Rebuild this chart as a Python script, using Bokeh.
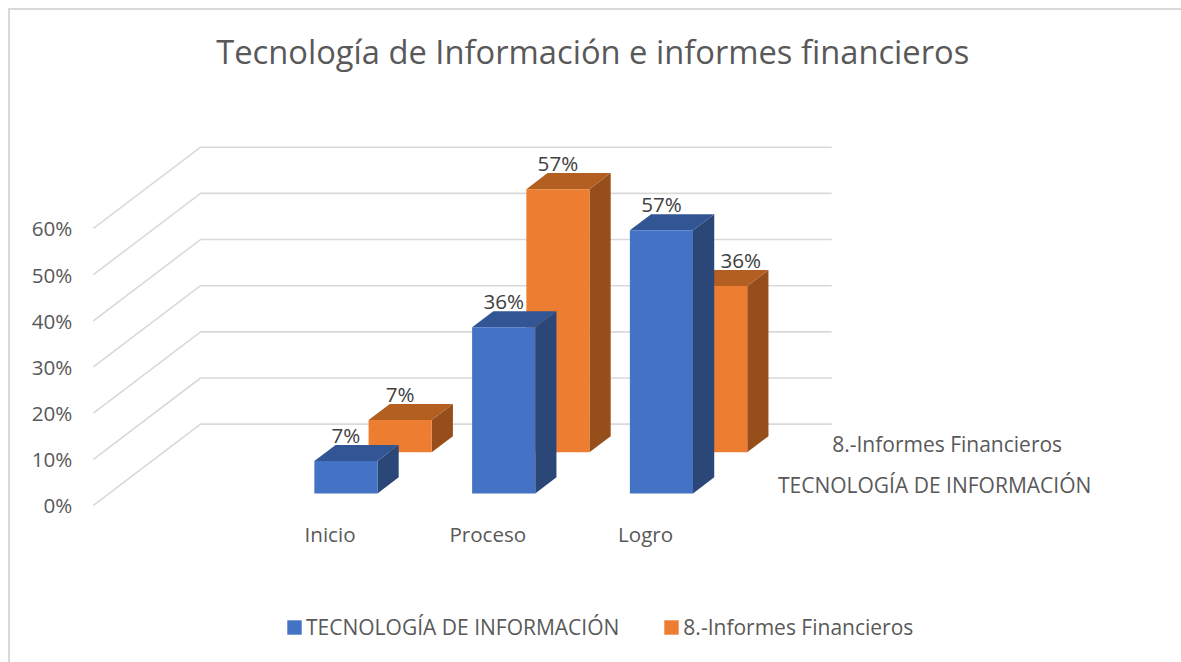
from bokeh.plotting import figure
from bokeh.models import (FixedTicker, Range1d, Legend, LegendItem, LinearAxis,
                          Title, PrintfTickFormatter, ColumnDataSource)
from bokeh.core.properties import value
from bokeh.embed import file_html
from bokeh.resources import INLINE

categories = ["Inicio", "Proceso", "Logro"]
tecnologia = [7, 36, 57]
informes = [7, 57, 36]
series_names = ["TECNOLOGÍA DE INFORMACIÓN", "8.-Informes Financieros"]
y_ticks = [0, 10, 20, 30, 40, 50, 60]
title_text = "Tecnología de  Información e informes financieros"

FONT = "Open Sans"
FS = "20.6px"
FS_LONG = "21px"
GRID = "#D9D9D9"
TEXT = "#595959"
LABEL = "#404040"
W, H = 1171, 652
PX_PER_CAT = 157.5
PX_PER_PCT = 4.6
MIN_TOP = 78

# oblique projection of the chart's depth axis (t = 0 front, t = 1 back wall)
DX = 107 / PX_PER_CAT
DY = 81 / PX_PER_PCT
BAR_W = 0.4
ROWS = [(0.148, 0.346), (0.654, 0.852)]
WALL_LEFT = -1.5
WALL_RIGHT = WALL_LEFT + 4.0
# data labels that the original chart nudged sideways to stay readable (series, category)
LABEL_NUDGE = {(1, 2): 25}


def pt(x, v, t):
    return x + t * DX, v + t * DY


def box(i, v, row):
    """Return front, top and side faces of a bar in data space."""
    t0, t1 = row
    l, r = i - BAR_W / 2, i + BAR_W / 2
    a = pt(l, v, t0); b = pt(r, v, t0); c = pt(r, v, t1); d = pt(l, v, t1)
    e = pt(r, 0, t0); f = pt(r, 0, t1)
    top = ([a[0], b[0], c[0], d[0]], [a[1], b[1], c[1], d[1]])
    side = ([b[0], c[0], f[0], e[0]], [b[1], c[1], f[1], e[1]])
    front = (a[0], b[0], e[1], a[1])
    return front, top, side


x0_px, y0_px = 329, 503.5
p = figure(width=W, height=H, output_backend="svg", toolbar_location=None,
           margin=(8, 0, 0, 8),
           x_range=Range1d((10 - x0_px) / PX_PER_CAT, (10 + W - x0_px) / PX_PER_CAT),
           y_range=Range1d((y0_px - (10 + H)) / PX_PER_PCT, (y0_px - (10 + MIN_TOP)) / PX_PER_PCT),
           min_border_left=0, min_border_right=0, min_border_bottom=0, min_border_top=MIN_TOP,
           x_axis_location=None, y_axis_location=None)
p.styles = {"border-left": f"2px solid {GRID}", "border-top": f"2px solid {GRID}",
            "box-sizing": "content-box"}
p.outline_line_color = None
p.grid.visible = False

p.title = Title(text=title_text, align="center", text_font=FONT,
                text_font_size="32.7px", text_font_style="normal", text_color=TEXT, standoff=30)

# gridlines: side wall + back wall
for v in y_ticks:
    bx, by = pt(WALL_LEFT, v, 1)
    fx, fy = pt(WALL_LEFT, v, 0)
    p.line([fx, bx, bx + 4.0], [fy, by, by], line_color=GRID, line_width=1.6)

# axes
yax = LinearAxis(ticker=FixedTicker(ticks=y_ticks), formatter=PrintfTickFormatter(format="%d%%"),
                 major_tick_line_color=None, minor_tick_line_color=None, axis_line_color=None,
                 major_label_text_font=FONT, major_label_text_font_size=FS,
                 major_label_text_color=TEXT, major_label_standoff=12,
                 fixed_location=WALL_LEFT - 0.02)
p.add_layout(yax, "left")
xax = LinearAxis(ticker=FixedTicker(ticks=[0, 1, 2]),
                 major_label_overrides={i: c for i, c in enumerate(categories)},
                 major_tick_line_color=None, minor_tick_line_color=None, axis_line_color=None,
                 major_label_text_font=FONT, major_label_text_font_size=FS,
                 major_label_text_color=TEXT, major_label_standoff=9,
                 fixed_location=0)
p.add_layout(xax, "below")

styles = [
    dict(front="#4472C4", top="#325693", side="#2A4778"),
    dict(front="#ED7D31", top="#B45F22", side="#964F1B"),
]
series = [tecnologia, informes]
front_renderers = {}
labels = dict(x=[], y=[], text=[], dx=[])
for s in (1, 0):  # back row first
    st = styles[s]
    row = ROWS[s]
    q = dict(left=[], right=[], bottom=[], top=[])
    for i, v in enumerate(series[s]):
        fr, tp, sd = box(i, v, row)
        p.patch(sd[0], sd[1], fill_color=st["side"], line_color=None)
        p.patch(tp[0], tp[1], fill_color=st["top"], line_color=None)
        q["left"].append(fr[0]); q["right"].append(fr[1])
        q["bottom"].append(fr[2]); q["top"].append(fr[3])
        lx, _ = pt(i, v, row[0])
        _, ly = pt(i, v, row[1])
        labels["x"].append(lx); labels["y"].append(ly); labels["text"].append(f"{v}%")
        labels["dx"].append(LABEL_NUDGE.get((s, i), 0))
    r = p.quad(source=ColumnDataSource(q), left="left", right="right", bottom="bottom", top="top",
               fill_color=st["front"], line_color=None)
    front_renderers[s] = r

# data labels sit above every bar
p.text(source=ColumnDataSource(labels), x="x", y="y", text="text", text_align="center",
       text_baseline="bottom", text_font=value(FONT), text_font_size=FS,
       text_color=LABEL, x_offset="dx", y_offset=4)

# depth-axis series names
for s, name in enumerate(series_names):
    t = sum(ROWS[s]) / 2
    x, y = pt(WALL_RIGHT, 0, t)
    p.text([x], [y], text=[name], text_align="left", text_baseline="middle",
           text_font=value(FONT), text_font_size=FS_LONG, text_color=TEXT, x_offset=27)

legend = Legend(items=[LegendItem(label=series_names[0], renderers=[front_renderers[0]]),
                       LegendItem(label=series_names[1], renderers=[front_renderers[1]])],
                orientation="horizontal", location=(275, 23), background_fill_alpha=0,
                border_line_color=None, glyph_width=18, glyph_height=18, label_standoff=3,
                spacing=43, padding=0, margin=0, label_text_font=FONT,
                label_text_font_size=FS_LONG, label_text_color=TEXT)
p.add_layout(legend, "center")

open("out.html", "w").write(file_html(p, INLINE))
